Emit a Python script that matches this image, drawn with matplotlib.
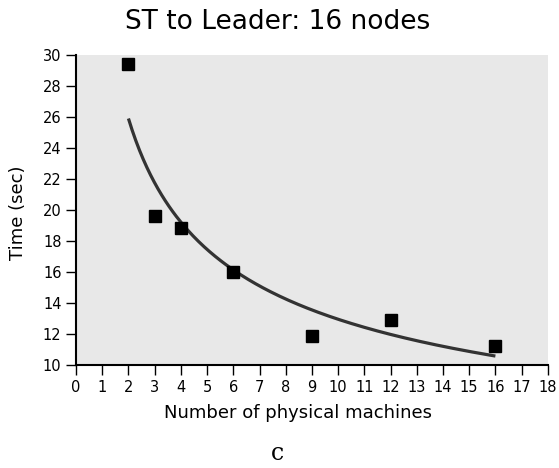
import numpy as np
import matplotlib
matplotlib.use("Agg")
import matplotlib.pyplot as plt

machines = [2, 3, 4, 6, 9, 12, 16]
times = [29.4, 19.6, 18.85, 16.0, 11.9, 12.9, 11.25]
xticks = list(range(0, 19))
yticks = list(range(10, 31, 2))

# power-law trendline fitted to the data
b, loga = np.polyfit(np.log(machines), np.log(times), 1)
xs = np.linspace(min(machines), max(machines), 200)
ys = np.exp(loga) * xs ** b

fig = plt.figure(figsize=(5.59, 4.68), dpi=100)
ax = fig.add_axes([0.136, 0.220, 0.844, 0.6625])
ax.set_facecolor("#e8e8e8")
ax.plot(xs, ys, color="#333333", lw=2.3, solid_capstyle="butt", zorder=2)
ax.plot(machines, times, "s", color="black", markersize=8.5, zorder=3)

ax.set_xlim(0, 18)
ax.set_ylim(10, 30)
ax.set_xticks(xticks)
ax.set_yticks(yticks)
ax.tick_params(axis="both", direction="out", length=7, width=1, labelsize=10.5)
for s in ["top", "right"]:
    ax.spines[s].set_visible(False)
ax.spines["left"].set_linewidth(1.5)
ax.spines["bottom"].set_linewidth(1.5)

ax.set_xlabel("Number of physical machines", fontsize=13)
ax.xaxis.set_label_coords(0.47, -0.125)
ax.set_ylabel("Time (sec)", fontsize=13)
ax.yaxis.set_label_coords(-0.104, 0.49)
fig.text(0.496, 0.953, "ST to Leader: 16 nodes", ha="center", va="center", fontsize=19)
fig.text(0.497, 0.030, "c", ha="center", va="center", fontsize=17, family="DejaVu Serif")

fig.savefig("out.png", dpi=100)
